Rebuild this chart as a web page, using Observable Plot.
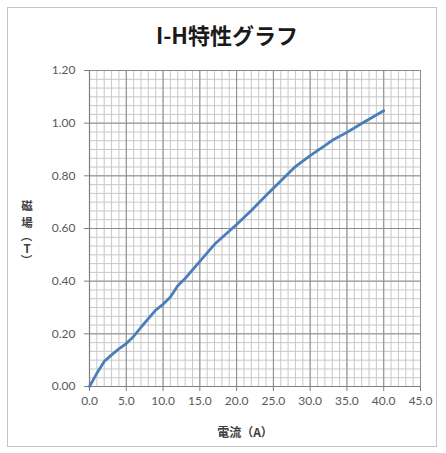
<!DOCTYPE html>
<html>
<head>
<meta charset="utf-8">
<script src="https://cdn.jsdelivr.net/npm/d3@7"></script>
<script src="https://cdn.jsdelivr.net/npm/@observablehq/plot@0.6"></script>
<style>
  html, body { margin: 0; padding: 0; background: #fff; width: 446px; height: 453px; overflow: hidden; }
  #frame { position: absolute; left: 7px; top: 7px; width: 430px; height: 440px; border: 1px solid #c4c4c4; box-sizing: border-box; }
  #title { position: absolute; left: 0; top: 0; width: 446px; height: 50px; box-sizing: border-box; padding-left: 8px; padding-top: 22px;
           font-family: "Noto Sans CJK JP", sans-serif; font-weight: bold; font-size: 22px; line-height: 24px; text-align: center; color: #1a1a1a; }
  #ylabel { position: absolute; left: 20px; top: 197px; width: 14px;
            font-family: "Noto Sans CJK JP", sans-serif; font-weight: bold; font-size: 11.5px; color: #404040; }
  #ylabel span { display: block; width: 14px; height: 17px; line-height: 17px; text-align: center; }
  #ylabel span.rot { transform: rotate(90deg); height: 10px; line-height: 10px; }
  #ylabel span.lat { height: 14px; line-height: 14px; }
  #chart { position: absolute; left: 0; top: 50px; }
</style>
</head>
<body>
<div id="frame"></div>
<div id="title"></div>
<div id="ylabel"></div>
<div id="chart"></div>
<script>
// Data
const current = [0, 1, 2, 3, 4, 5, 6, 7, 8, 9, 10, 11, 12, 13, 15, 17, 20, 22, 24, 26, 28, 30, 32, 33, 35, 37, 40];
const field   = [0, 0.05, 0.095, 0.12, 0.143, 0.163, 0.19, 0.225, 0.258, 0.29, 0.312, 0.34, 0.383, 0.41, 0.475, 0.54, 0.615, 0.668, 0.725, 0.78, 0.835, 0.877, 0.915, 0.935, 0.965, 0.999, 1.047];

// Axis ticks
const xMajorTicks = [0, 5, 10, 15, 20, 25, 30, 35, 40, 45];
const yMajorTicks = [0, 0.2, 0.4, 0.6, 0.8, 1.0, 1.2];
const xMinorTicks = d3.range(0, 46, 1);
const yMinorTicks = d3.range(0, 37).map(i => i * 0.2 / 6);

const titleText = "I-H特性グラフ";
const xLabel = "電流（A）";
const yLabel = "磁場（T）";

document.getElementById("title").textContent = titleText;
const yl = document.getElementById("ylabel");
for (const ch of yLabel) {
  const s = document.createElement("span");
  s.textContent = ch;
  if (ch === "（" || ch === "）") s.className = "rot";
  else if (/[A-Za-z]/.test(ch)) s.className = "lat";
  yl.appendChild(s);
}

const data = current.map((c, i) => ({ c, h: field[i] }));

const chart = Plot.plot({
  width: 446,
  height: 403,
  marginLeft: 89,
  marginRight: 26,
  marginTop: 20,
  marginBottom: 67,
  style: { fontFamily: "Lato, 'Open Sans', sans-serif", fontSize: "12px", color: "#595959", background: "transparent" },
  x: { domain: [0, 45] },
  y: { domain: [0, 1.2] },
  marks: [
    Plot.ruleX(xMinorTicks, { stroke: "#c8c8c8", strokeWidth: 1 }),
    Plot.ruleY(yMinorTicks, { stroke: "#c8c8c8", strokeWidth: 1 }),
    Plot.ruleX(xMajorTicks, { stroke: "#8c8c8c", strokeWidth: 1 }),
    Plot.ruleY(yMajorTicks, { stroke: "#8c8c8c", strokeWidth: 1 }),
    Plot.ruleX([0], { stroke: "#7f7f7f", strokeWidth: 1.2 }),
    Plot.ruleY([0], { stroke: "#7f7f7f", strokeWidth: 1.2 }),
    Plot.axisX(xMajorTicks, { tickSize: 5, tickPadding: 5, tickFormat: d3.format(".1f"), label: null, stroke: "#7f7f7f", fill: "#595959", fontSize: 12 }),
    Plot.axisY(yMajorTicks, { tickSize: 5, tickPadding: 9, tickFormat: d3.format(".2f"), label: null, stroke: "#7f7f7f", fill: "#595959", fontSize: 12 }),
    Plot.line(data, { x: "c", y: "h", stroke: "#4a7ebb", strokeWidth: 2.8, strokeLinejoin: "round", strokeLinecap: "round" }),
    Plot.text([xLabel], { frameAnchor: "bottom", dy: 50, dx: -10, text: d => d, fontWeight: "bold", fontSize: 12, fill: "#404040", fontFamily: "'Noto Sans CJK JP', sans-serif" })
  ]
});
document.getElementById("chart").appendChild(chart);
</script>
</body>
</html>
